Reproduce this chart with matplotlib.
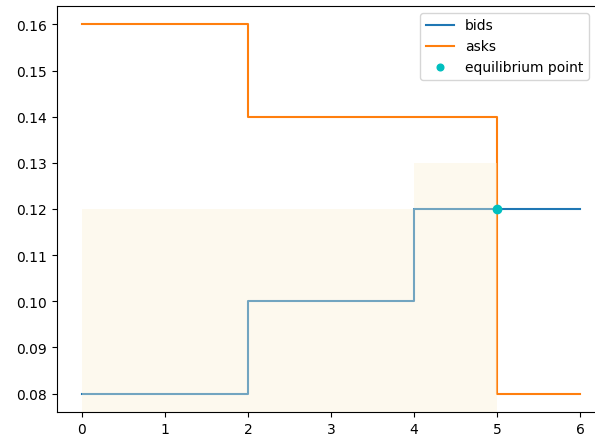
import matplotlib.pyplot as plt

# order book steps
bid_x = [0, 2, 4, 6]
bid_y = [0.08, 0.10, 0.12, 0.12]
ask_x = [0, 2, 5, 6]
ask_y = [0.16, 0.14, 0.08, 0.08]

# shaded surplus region
shade_x = [0, 4, 5]
shade_y = [0.12, 0.13, 0.13]

eq_x = [5]
eq_y = [0.12]

fig = plt.figure(figsize=(5.95, 4.39), dpi=100)
ax = fig.add_axes([57 / 595, 26 / 439, 548 / 595, 406 / 439])

ax.step(bid_x, bid_y, where="post", label="bids")
ax.step(ask_x, ask_y, where="post", label="asks")
# shading sits over the lines, so the bids line shows through it paler
ax.fill_between(shade_x, 0, shade_y, step="post", color=(252 / 255, 241 / 255, 212 / 255),
                alpha=0.38, linewidth=0, zorder=2.5)
ax.plot(eq_x, eq_y, "o", color="c", markersize=6, label="equilibrium point", zorder=3)

ax.set_xlim(-0.3, 6.3)
ax.set_ylim(0.076, 0.164)
ax.legend(loc="upper right", bbox_to_anchor=(0.983, 1.0), markerscale=0.8)

fig.savefig("out.png", dpi=100)
